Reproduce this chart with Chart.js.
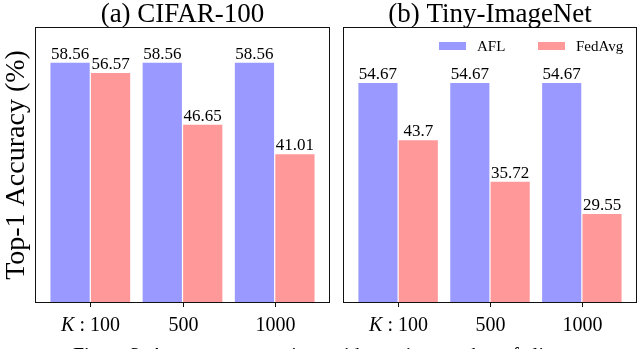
<!DOCTYPE html>
<html>
<head>
<meta charset="utf-8">
<script src="https://cdn.jsdelivr.net/npm/chart.js@4/dist/chart.umd.min.js"></script>
<style>
  html, body { margin: 0; padding: 0; background: #fff; overflow: hidden; }
  body { width: 640px; height: 349px; position: relative; }
  canvas { position: absolute; top: 0; }
  #caption {
    position: absolute; left: 73px; top: 345px; white-space: nowrap;
    font: 20px/20px "Liberation Serif", "DejaVu Serif", serif; color: #000;
  }
</style>
</head>
<body>
<canvas id="chart-cifar" width="336" height="349" style="left:0"></canvas>
<canvas id="chart-tiny" width="304" height="349" style="left:336px"></canvas>
<div id="caption">Figure 3: Accuracy comparison with varying number of clients.</div>
<script>
// Top-1 accuracy, AFL vs FedAvg, for growing client counts K

const TICK_LABELS   = ['K:100', '500', '1000'];
const CIFAR_AFL     = [58.56, 58.56, 58.56];
const CIFAR_FEDAVG  = [56.57, 46.65, 41.01];
const TINY_AFL      = [54.67, 54.67, 54.67];
const TINY_FEDAVG   = [43.7, 35.72, 29.55];
const SERIES_NAMES  = ['AFL', 'FedAvg'];

const COL_AFL    = 'rgb(153,153,255)';
const COL_FEDAVG = 'rgb(255,153,153)';
const SERIF      = '"Liberation Serif", "DejaVu Serif", serif';
const Y_MIN = 12.5, Y_MAX = 65.4;

// ── Decoraciones: marco, ticks, etiquetas, título, leyenda ──────────────────

function _drawTickLabel(ctx, text, x, y) {
  const parts = text.split(':');
  if (parts.length < 2) {
    ctx.font = '20px ' + SERIF;
    ctx.textAlign = 'center';
    ctx.fillText(text, x, y);
    return;
  }
  // "K : 100" con K en cursiva
  ctx.font = 'italic 20px ' + SERIF;
  const wK = ctx.measureText(parts[0]).width;
  ctx.font = '20px ' + SERIF;
  const mid = ' : ';
  const wMid = ctx.measureText(mid).width;
  const wNum = ctx.measureText(parts[1]).width;
  let cx = x - (wK + wMid + wNum) / 2;
  ctx.textAlign = 'left';
  ctx.font = 'italic 20px ' + SERIF;
  ctx.fillText(parts[0], cx, y);
  cx += wK;
  ctx.font = '20px ' + SERIF;
  ctx.fillText(mid, cx, y);
  cx += wMid;
  ctx.fillText(parts[1], cx, y);
}

const panelDeco = {
  id: 'panelDeco',
  afterDatasetsDraw(chart, args, opts) {
    const ctx = chart.ctx;
    ctx.save();
    ctx.fillStyle = '#000';
    ctx.font = '17px ' + SERIF;
    ctx.textAlign = 'center';
    ctx.textBaseline = 'alphabetic';
    chart.data.datasets.forEach((ds, di) => {
      chart.getDatasetMeta(di).data.forEach((el, i) => {
        ctx.fillText(String(ds.data[i].y), el.x, el.y - 4);
      });
    });
    ctx.restore();
  },
  afterDraw(chart, args, opts) {
    const ctx = chart.ctx;
    const a = chart.chartArea;
    const xs = chart.scales.x;
    ctx.save();

    // marco
    ctx.strokeStyle = '#111';
    ctx.lineWidth = 1;
    ctx.strokeRect(Math.round(a.left) + 0.5, Math.round(a.top) + 0.5,
      Math.round(a.right - a.left) - 1, Math.round(a.bottom - a.top) - 1);

    // ticks + etiquetas
    ctx.fillStyle = '#000';
    ctx.textBaseline = 'alphabetic';
    TICK_LABELS.forEach((lab, i) => {
      const x = Math.round(xs.getPixelForValue(i)) + 0.5;
      ctx.beginPath();
      ctx.moveTo(x, a.bottom);
      ctx.lineTo(x, a.bottom + 4);
      ctx.stroke();
      _drawTickLabel(ctx, lab, x, a.bottom + 28);
    });

    // título
    ctx.font = '27px ' + SERIF;
    ctx.textAlign = 'center';
    ctx.fillText(opts.title, (a.left + a.right) / 2, a.top - 5);

    // eje y
    if (opts.ylabel) {
      ctx.save();
      ctx.translate(17, (a.top + a.bottom) / 2);
      ctx.rotate(-Math.PI / 2);
      ctx.font = '28px ' + SERIF;
      ctx.textBaseline = 'middle';
      ctx.fillText(opts.ylabel, 0, 0);
      ctx.restore();
    }

    // leyenda
    if (opts.legend) {
      const cols = [COL_AFL, COL_FEDAVG];
      const lx = [a.left + 96, a.left + 195];
      ctx.font = '15px ' + SERIF;
      ctx.textAlign = 'left';
      SERIES_NAMES.forEach((name, i) => {
        ctx.fillStyle = cols[i];
        ctx.fillRect(lx[i], a.top + 15, 27, 8);
        ctx.fillStyle = '#000';
        ctx.fillText(name, lx[i] + 38, a.top + 24);
      });
    }
    ctx.restore();
  }
};

// ── Paneles ─────────────────────────────────────────────────────────────────

function _points(vals) {
  return vals.map((v, i) => ({ x: i, y: v }));
}

function makePanel(canvasId, title, afl, fedavg, pad, extra) {
  const canvas = document.getElementById(canvasId);
  return new Chart(canvas.getContext('2d'), {
    type: 'bar',
    data: {
      datasets: [
        { label: SERIES_NAMES[0], data: _points(afl),    backgroundColor: COL_AFL },
        { label: SERIES_NAMES[1], data: _points(fedavg), backgroundColor: COL_FEDAVG }
      ]
    },
    options: {
      responsive: false,
      animation: false,
      devicePixelRatio: 1,
      categoryPercentage: 0.878,
      barPercentage: 0.97,
      layout: { padding: pad },
      plugins: {
        legend: { display: false },
        tooltip: { enabled: false },
        panelDeco: Object.assign({ title: title }, extra)
      },
      scales: {
        x: {
          type: 'linear', min: -0.6, max: 2.6, offset: false, display: false,
          // un tick por grupo, así el ancho de barra se mide entre grupos
          afterBuildTicks: s => { s.ticks = TICK_LABELS.map((t, i) => ({ value: i })); }
        },
        y: { min: Y_MIN, max: Y_MAX, display: false }
      }
    },
    plugins: [panelDeco]
  });
}

makePanel('chart-cifar', '(a) CIFAR-100', CIFAR_AFL, CIFAR_FEDAVG,
  { left: 35, right: 6, top: 27, bottom: 46 }, { ylabel: 'Top-1 Accuracy (%)' });
makePanel('chart-tiny', '(b) Tiny-ImageNet', TINY_AFL, TINY_FEDAVG,
  { left: 7, right: 3, top: 27, bottom: 46 }, { legend: true });
</script>
</body>
</html>
